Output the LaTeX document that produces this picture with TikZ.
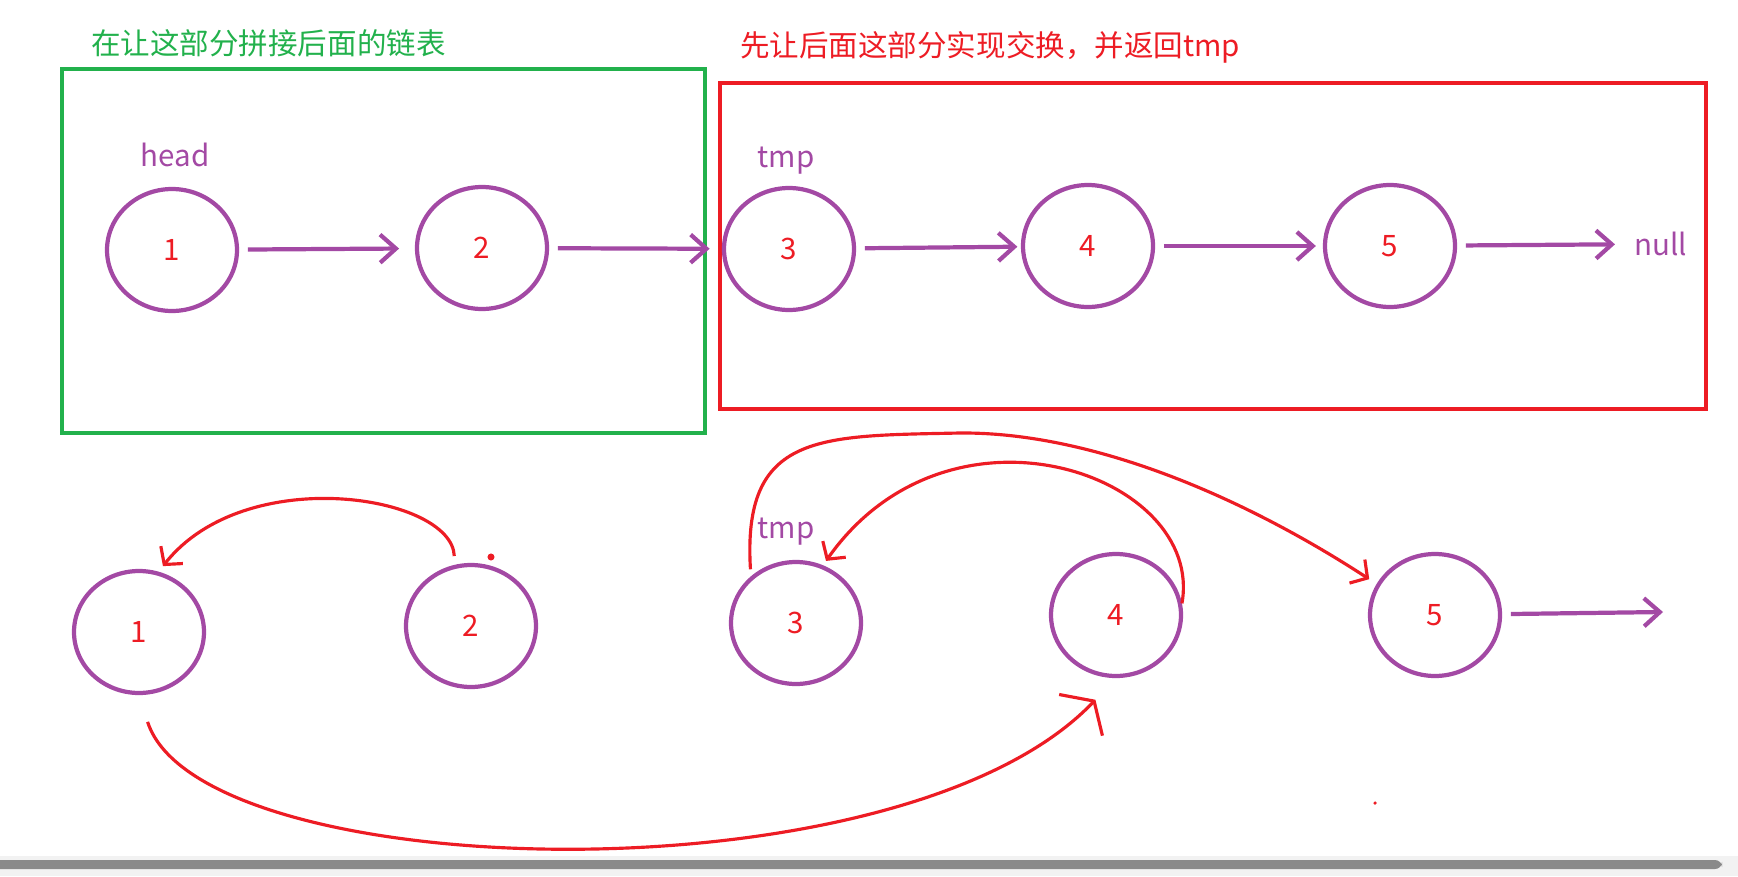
\documentclass[tikz,border=0pt]{standalone}
\usepackage{fontspec}
\setmainfont{Noto Sans CJK SC}
\usetikzlibrary{shapes.geometric,arrows.meta}

\definecolor{nodepurple}{HTML}{A349A4}
\definecolor{markred}{HTML}{ED1C24}
\definecolor{boxgreen}{HTML}{22B14C}
\definecolor{barband}{HTML}{F2F2F2}
\definecolor{bargray}{HTML}{8A8A8A}

\tikzset{
  lnode/.style={ellipse, draw=nodepurple, line width=2.4pt, minimum width=2.6cm,
    minimum height=2.44cm, text=markred, font=\fontsize{16.8}{20}\selectfont},
  lbl/.style={text=nodepurple, inner sep=0pt, font=\fontsize{16.8}{20}\selectfont},
  title/.style={anchor=west, inner sep=0pt, font=\fontsize{16.8}{20}\selectfont},
  nextptr/.style={nodepurple, line width=2.4pt, shorten <=5pt,
    -{Straight Barb[length=9pt,width=16pt]}},
  swapptr/.style={markred, line width=1.8pt,
    -{Straight Barb[length=7pt,width=16pt]}},
}

\begin{document}
\begin{tikzpicture}[x=0.02cm,y=-0.02cm]
  \useasboundingbox (0,0) rectangle (1738,876);
  % scroll bar of the screenshot
  \fill[barband] (0,856) rectangle (1738,876);
  \fill[bargray, rounded corners=4pt] (-20,860) rectangle (1722,869);

  % the two parts
  \draw[boxgreen, line width=2.2pt] (62,69) rectangle (705,433);
  \draw[markred, line width=2.2pt] (720,83) rectangle (1706,409);
  \node[title, text=boxgreen] (greentitle) at (91,43) {在让这部分拼接后面的链表};
  \node[title, text=markred] (redtitle) at (740,47) {先让后面这部分实现交换，并返回tmp};

  % list before the swap
  \node[lnode] (a1) at (172,250) {1};
  \node[lnode] (a2) at (482,248) {2};
  \node[lnode] (a3) at (789,249) {3};
  \node[lnode] (a4) at (1088,246) {4};
  \node[lnode] (a5) at (1390,246) {5};
  \node[lbl] (head) at (175,155) {head};
  \node[lbl] (tmptop) at (786,161) {tmp};
  \node[lbl] (null) at (1661,244) {null};
  \draw[nextptr, shorten >=9pt] (a1) -- (a2);
  \draw[nextptr, shorten >=7pt] (a2) -- (a3);
  \draw[nextptr, shorten >=2pt] (a3) -- (a4);
  \draw[nextptr, shorten >=4pt] (a4) -- (a5);
  \draw[nextptr, shorten >=11pt] (a5) -- (null);

  % list after the swap
  \node[lnode] (b1) at (139,632) {1};
  \node[lnode] (b2) at (471,626) {2};
  \node[lnode] (b3) at (796,623) {3};
  \node[lnode] (b4) at (1116,615) {4};
  \node[lnode] (b5) at (1435,615) {5};
  \node[lbl] (tmpbottom) at (786,532) {tmp};
  \coordinate (b5end) at (1663,612);
  \draw[nextptr] (b5) -- (b5end);

  \draw[swapptr, shorten <=5pt, shorten >=4pt] (b2.105)
    .. controls (452,495) and (245,462) .. (b1.72);
  \draw[swapptr, -{Straight Barb[length=11pt,width=34pt]}, shorten <=16pt, shorten >=17pt]
    (b1.south) .. controls (200,885) and (900,905) .. (b4.south);
  \draw[swapptr, shorten >=3pt] (b4.10)
    .. controls (1205,475) and (950,385) .. (b3.65);
  \draw[swapptr, shorten <=4pt, shorten >=5pt] (b3.134)
    .. controls (742,432) and (820,436) .. (960,433)
    .. controls (1090,432) and (1240,495) .. (b5.152);
  \fill[markred] (491,557) circle[radius=2pt];
  \fill[markred] (1375,803) circle[radius=1pt];
\end{tikzpicture}
\end{document}
